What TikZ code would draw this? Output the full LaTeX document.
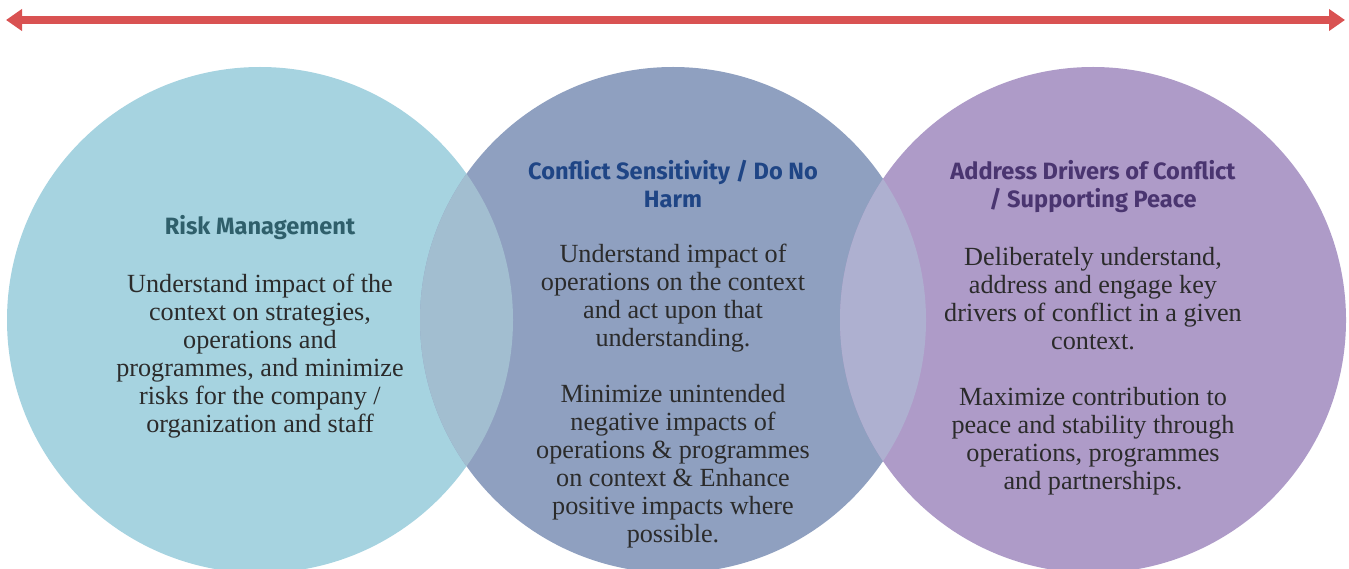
\documentclass[tikz,border=0pt]{standalone}
\usepackage{fontspec}
\setmainfont{Liberation Serif}
\newfontfamily\headfont{Fira Sans}
\usetikzlibrary{positioning,arrows.meta}
\definecolor{RiskFill}{RGB}{166,211,224}
\definecolor{HarmFill}{RGB}{143,160,192}
\definecolor{PeaceFill}{RGB}{174,155,200}
\definecolor{LensOne}{RGB}{162,190,208}
\definecolor{LensTwo}{RGB}{174,176,208}
\definecolor{ArrowRed}{RGB}{217,82,82}
\definecolor{RiskTitle}{RGB}{47,95,107}
\definecolor{HarmTitle}{RGB}{31,69,133}
\definecolor{PeaceTitle}{RGB}{74,53,112}
\definecolor{BodyText}{RGB}{43,43,43}

\begin{document}
\begin{tikzpicture}[
    x=1pt, y=-1pt,
    ring/.style={circle, draw=none, minimum size=506pt, inner sep=0pt},
    head/.style={inner sep=0pt, align=center, font=\headfont\bfseries\fontsize{23.6}{28}\selectfont},
    body/.style={inner sep=0pt, align=center, text=BodyText, font=\fontsize{26.2}{28}\selectfont}
]
\useasboundingbox (0,0) rectangle (1349,569);
\node[ring, fill=RiskFill] (risk) at (260,320) {};
\node[ring, fill=HarmFill] (harm) at (673,320) {};
\node[ring, fill=PeaceFill] (peace) at (1093,320) {};
% overlaps
\begin{scope}
\clip (risk.center) circle (253);
\fill[LensOne] (harm.center) circle (253);
\end{scope}
\begin{scope}
\clip (harm.center) circle (253);
\fill[LensTwo] (peace.center) circle (253);
\end{scope}
% scale arrow
\coordinate (leftend) at (6,20);
\coordinate (rightend) at (1345,20);
\draw[ArrowRed, line width=8pt, {Triangle[length=16pt,width=21pt]}-{Triangle[length=16pt,width=21pt]}] (leftend) -- (rightend);
% texts
\node[head, text=RiskTitle] (riskhead) at (260,228) {Risk Management};
\node[body] (riskbody) at (260,356) {Understand impact of the\\context on strategies,\\operations and\\programmes, and minimize\\risks for the company /\\organization and staff};
\node[head, text=HarmTitle] (harmhead) at (673,184) {Conflict Sensitivity / Do No\\Harm};
\node[body] (harmbody) at (673,396) {Understand impact of\\operations on the context\\and act upon that\\understanding.\\[28pt]Minimize unintended\\negative impacts of\\operations \& programmes\\on context \& Enhance\\positive impacts where\\possible.};
\node[head, text=PeaceTitle] (peacehead) at (1093,187) {Address Drivers of Conflict\\/ Supporting Peace};
\node[body] (peacebody) at (1093,371) {Deliberately understand,\\address and engage key\\drivers of conflict in a given\\context.\\[28pt]Maximize contribution to\\peace and stability through\\operations, programmes\\and partnerships.};
\end{tikzpicture}
\end{document}
